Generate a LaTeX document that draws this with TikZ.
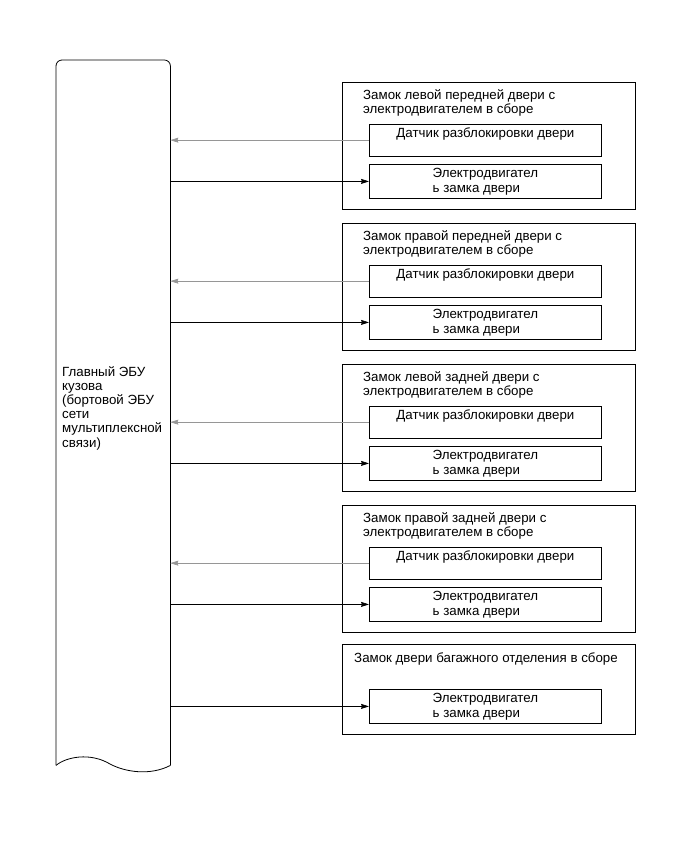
\documentclass[tikz,border=0pt]{standalone}
\usepackage{fontspec}
\setmainfont{Liberation Sans}
\usepackage{xcolor}
\usetikzlibrary{arrows.meta,positioning}
\definecolor{sensgray}{RGB}{150,150,150}
\newcommand{\sensortxt}{Датчик разблокировки двери}
\newcommand{\motortxt}{Электродвигател\\ь замка двери}

\begin{document}
\begin{tikzpicture}[
  x=1pt, y=-1pt,
  font=\fontsize{13.3}{14.2}\selectfont,
  lockbox/.style={draw, rectangle, anchor=north west, minimum width=293pt, minimum height=127pt, line width=0.8pt},
  ttl/.style={anchor=north west, align=left, inner sep=0pt},
  sensbox/.style={draw, rectangle, anchor=north west, minimum width=232pt, inner xsep=0pt, inner ysep=3.5pt,
                  text height=9.5pt, text depth=15pt, line width=0.8pt},
  motbox/.style={draw, rectangle, anchor=north west, minimum width=232pt, minimum height=34pt, align=left,
                 font=\fontsize{13.3}{15}\selectfont, line width=0.8pt},
  >={Stealth[length=8pt,width=5pt,inset=1pt]},
  arrline/.style={->, line width=0.6pt},
  arrgray/.style={->, line width=0.6pt, draw=sensgray},
]
\useasboundingbox (0,0) rectangle (691,855);

% main ECU
\node[minimum width=114pt, minimum height=705pt, anchor=north west, inner sep=0pt] (ecu) at (56,60) {};
\draw[line width=0.8pt, rounded corners=6pt] (ecu.south west) -- (ecu.north west) -- (ecu.north east) -- (ecu.south east);
\draw[line width=0.8pt] (ecu.south west) .. controls (66,757) and (90,752) .. (110,764)
  .. controls (125,772) and (150,776) .. (ecu.south east);
\node[ttl] (ecuTxt) at (62,366) {Главный ЭБУ\\кузова\\(бортовой ЭБУ\\сети\\мультиплексной\\связи)};

% left front door
\node[lockbox] (lockLF) at (342,82) {};
\node[ttl] (ttlLF) at (363,89) {Замок левой передней двери с\\электродвигателем в сборе};
\node[sensbox] (sensLF) at (369,124) {\sensortxt};
\node[motbox] (motLF) at (369,164) {\motortxt};

% right front door
\node[lockbox] (lockRF) at (342,223) {};
\node[ttl] (ttlRF) at (363,230) {Замок правой передней двери с\\электродвигателем в сборе};
\node[sensbox] (sensRF) at (369,265) {\sensortxt};
\node[motbox] (motRF) at (369,305) {\motortxt};

% left rear door
\node[lockbox] (lockLR) at (342,364) {};
\node[ttl] (ttlLR) at (363,371) {Замок левой задней двери с\\электродвигателем в сборе};
\node[sensbox] (sensLR) at (369,406) {\sensortxt};
\node[motbox] (motLR) at (369,446) {\motortxt};

% right rear door
\node[lockbox] (lockRR) at (342,505) {};
\node[ttl] (ttlRR) at (363,512) {Замок правой задней двери с\\электродвигателем в сборе};
\node[sensbox] (sensRR) at (369,547) {\sensortxt};
\node[motbox] (motRR) at (369,587) {\motortxt};

% back door
\node[lockbox, minimum height=90pt] (lockBD) at (342,644) {};
\node[inner sep=0pt, anchor=north] (ttlBD) at (486,653) {Замок двери багажного отделения в сборе};
\node[motbox] (motBD) at (369,689) {\motortxt};

\draw[arrgray] (sensLF.west) -- (sensLF.west -| ecu.east);
\draw[arrline] (motLF.west -| ecu.east) -- (motLF.west);
\draw[arrgray] (sensRF.west) -- (sensRF.west -| ecu.east);
\draw[arrline] (motRF.west -| ecu.east) -- (motRF.west);
\draw[arrgray] (sensLR.west) -- (sensLR.west -| ecu.east);
\draw[arrline] (motLR.west -| ecu.east) -- (motLR.west);
\draw[arrgray] (sensRR.west) -- (sensRR.west -| ecu.east);
\draw[arrline] (motRR.west -| ecu.east) -- (motRR.west);
\draw[arrline] (motBD.west -| ecu.east) -- (motBD.west);
\end{tikzpicture}
\end{document}
